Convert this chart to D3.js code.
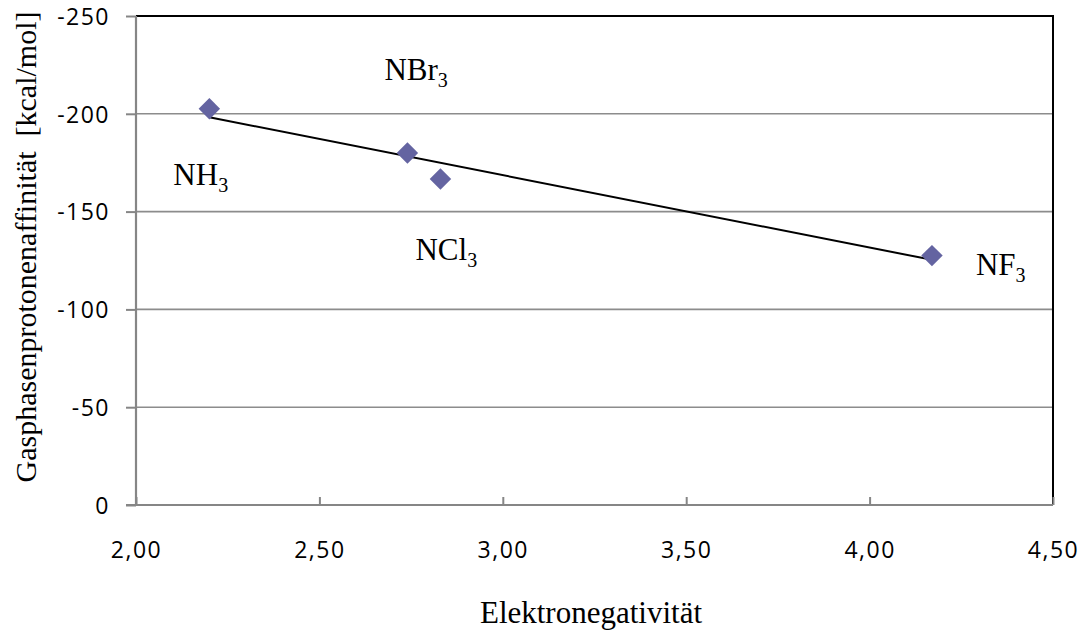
<!DOCTYPE html>
<html>
<head>
<meta charset="utf-8">
<script src="https://cdn.jsdelivr.net/npm/d3@7"></script>
<style>
  html, body { margin: 0; padding: 0; background: #fff; }
  svg { display: block; }
  text { white-space: pre; }
</style>
</head>
<body>
<svg id="chart" width="1080" height="633"></svg>
<script>
// ---- data ----
const compounds = ["NH", "NBr", "NCl", "NF"];
const subscripts = ["3", "3", "3", "3"];
const electronegativity = [2.20, 2.74, 2.83, 4.17];
const protonAffinity = [-202.6, -180.0, -166.7, -127.5];
const xTicks = [2.00, 2.50, 3.00, 3.50, 4.00, 4.50];
const xTickLabels = ["2,00", "2,50", "3,00", "3,50", "4,00", "4,50"];
const yTicks = [0, -50, -100, -150, -200, -250];
const yTickLabels = ["0", "-50", "-100", "-150", "-200", "-250"];
const xTitle = "Elektronegativität";
const yTitle = "Gasphasenprotonenaffinität  [kcal/mol]";

// ---- layout ----
const plot = { left: 136, right: 1053, top: 16, bottom: 505 };
const labelOffsets = [[-36, 76], [-23, -73], [-25, 81], [44, 19]];
const markerColor = "#6464a1";
const axisGray = "#868686";

const svg = d3.select("#chart");
const x = d3.scaleLinear().domain([2.0, 4.5]).range([plot.left, plot.right]);
const y = d3.scaleLinear().domain([0, -250]).range([plot.bottom, plot.top]);

// gridlines
svg.append("g").selectAll("line")
  .data(yTicks.filter(d => d !== 0 && d !== -250))
  .join("line")
  .attr("x1", plot.left).attr("x2", plot.right)
  .attr("y1", d => y(d)).attr("y2", d => y(d))
  .attr("stroke", "#8c8c8c").attr("stroke-width", 1.6);

// top and right border (black)
svg.append("path")
  .attr("d", `M${plot.left},${y(-250)}H${plot.right}V${plot.bottom}`)
  .attr("fill", "none").attr("stroke", "#000").attr("stroke-width", 2);

// y axis
const yAxis = d3.axisLeft(y).tickValues(yTicks).tickSize(10)
  .tickFormat((d, i) => yTickLabels[i]).tickPadding(16);
const gy = svg.append("g").attr("transform", `translate(${plot.left},0)`).call(yAxis);
gy.select(".domain").attr("stroke", axisGray).attr("stroke-width", 2.2)
  .attr("d", `M0,${plot.top}V${plot.bottom}`);
gy.selectAll(".tick line").attr("stroke", axisGray).attr("stroke-width", 2);
gy.selectAll(".tick text")
  .attr("font-family", "'Open Sans', sans-serif").attr("font-size", 23)
  .attr("letter-spacing", 1.5).attr("fill", "#000").attr("dy", "0.36em");

// x axis (ticks inside)
const xAxis = d3.axisBottom(x).tickValues(xTicks).tickSize(-8)
  .tickFormat((d, i) => xTickLabels[i]).tickPadding(0);
const gx = svg.append("g").attr("transform", `translate(0,${plot.bottom})`).call(xAxis);
gx.select(".domain").attr("stroke", axisGray).attr("stroke-width", 2.2)
  .attr("d", `M${plot.left - 10},0H${plot.right}`);
gx.selectAll(".tick line").attr("stroke", axisGray).attr("stroke-width", 2);
gx.selectAll(".tick text")
  .attr("font-family", "'Open Sans', sans-serif").attr("font-size", 23)
  .attr("letter-spacing", 1.5).attr("fill", "#000")
  .attr("y", 53).attr("dy", 0);

// linear trendline (least squares of the series)
const mx = d3.mean(electronegativity), my = d3.mean(protonAffinity);
const sxy = d3.sum(electronegativity.map((v, i) => (v - mx) * (protonAffinity[i] - my)));
const sxx = d3.sum(electronegativity.map(v => (v - mx) ** 2));
const slope = sxy / sxx, intercept = my - slope * mx;
const [xmin, xmax] = d3.extent(electronegativity);
svg.append("line")
  .attr("x1", x(xmin)).attr("y1", y(intercept + slope * xmin))
  .attr("x2", x(xmax)).attr("y2", y(intercept + slope * xmax))
  .attr("stroke", "#000").attr("stroke-width", 2);

// markers (diamonds)
const diamond = d3.symbol().type(d3.symbolSquare).size(230);
svg.append("g").selectAll("path")
  .data(electronegativity.map((v, i) => [v, protonAffinity[i]]))
  .join("path")
  .attr("d", diamond)
  .attr("transform", d => `translate(${x(d[0])},${y(d[1])}) rotate(45)`)
  .attr("fill", markerColor);

// labels
const labels = svg.append("g").attr("font-family", "'Liberation Serif', 'Times New Roman', serif")
  .attr("fill", "#000");
compounds.forEach((c, i) => {
  const t = labels.append("text")
    .attr("x", x(electronegativity[i]) + labelOffsets[i][0])
    .attr("y", y(protonAffinity[i]) + labelOffsets[i][1])
    .attr("font-size", 31);
  t.append("tspan").text(c);
  t.append("tspan").attr("font-size", 20).attr("dy", 7).text(subscripts[i]);
});

// axis titles
svg.append("text")
  .attr("x", 591).attr("y", 623).attr("text-anchor", "middle")
  .attr("font-family", "'Liberation Serif', 'Times New Roman', serif")
  .attr("font-size", 31).text(xTitle);
svg.append("text")
  .attr("transform", "translate(36,247) rotate(-90)").attr("text-anchor", "middle")
  .attr("font-family", "'Liberation Serif', 'Times New Roman', serif")
  .attr("font-size", 30).text(yTitle);
</script>
</body>
</html>
